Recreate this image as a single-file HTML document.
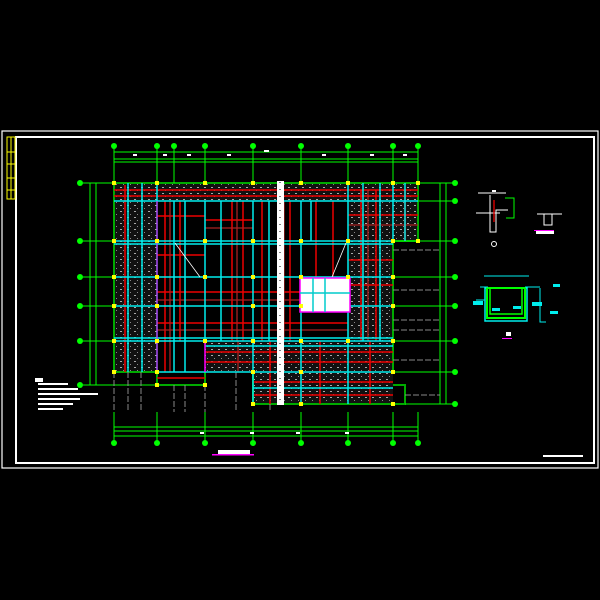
<!DOCTYPE html>
<html><head><meta charset="utf-8"><style>
html,body{margin:0;padding:0;background:#000;width:600px;height:600px;overflow:hidden}
svg{display:block}
text{font-family:"Liberation Sans",sans-serif}
</style></head><body>
<svg width="600" height="600" viewBox="0 0 600 600" xmlns="http://www.w3.org/2000/svg">
<defs>
<pattern id="h" width="7" height="6" patternUnits="userSpaceOnUse">
<rect width="7" height="6" fill="#111"/>
<rect x="1" y="1" width="2" height="1" fill="#aaa"/>
<rect x="4" y="4" width="1" height="1" fill="#888"/>
</pattern>
</defs>
<rect width="600" height="600" fill="#000"/>
<!-- borders -->
<rect x="2" y="131" width="596" height="337" fill="none" stroke="#fff" stroke-width="1.2"/>
<rect x="16" y="137" width="578" height="326" fill="none" stroke="#fff" stroke-width="2"/>
<!-- title block -->
<g fill="none" stroke="#ff0" stroke-width="1">
<rect x="7" y="137" width="8" height="62"/>
<line x1="7" y1="152" x2="15" y2="152"/><line x1="7" y1="164" x2="15" y2="164"/>
<line x1="7" y1="178" x2="15" y2="178"/><line x1="7" y1="190" x2="15" y2="190"/>
<line x1="11" y1="137" x2="11" y2="199"/>
</g>
<!-- hatched regions -->
<g fill="url(#h)">
<rect x="114" y="183" width="304" height="18"/>
<rect x="114" y="183" width="43" height="189"/>
<rect x="348" y="183" width="70" height="58"/>
<rect x="348" y="183" width="45" height="158"/>
<rect x="205" y="341" width="188" height="31"/>
<rect x="253" y="341" width="140" height="63"/>
</g>
<!-- green outline -->
<g fill="none" stroke="#0a0" stroke-width="2">
<path d="M114 183H418V241H393V372M114 183V372H157M253 372V404H405V385H393"/>
<path d="M157 372V385H205V372"/>
</g>
<!-- dimension lines -->
<g stroke="#0f0" stroke-width="1">
<line x1="114" y1="152" x2="418" y2="152"/><line x1="114" y1="159" x2="418" y2="159"/><line x1="114" y1="162" x2="418" y2="162"/>
<line x1="114" y1="427" x2="418" y2="427"/><line x1="114" y1="431" x2="418" y2="431"/><line x1="114" y1="436" x2="418" y2="436"/>
<line x1="83" y1="183" x2="114" y2="183"/><line x1="83" y1="241" x2="114" y2="241"/><line x1="83" y1="277" x2="114" y2="277"/>
<line x1="83" y1="306" x2="114" y2="306"/><line x1="83" y1="341" x2="114" y2="341"/><line x1="83" y1="385" x2="157" y2="385"/>
<line x1="90" y1="183" x2="90" y2="385"/><line x1="96" y1="183" x2="96" y2="385"/>
<line x1="418" y1="183" x2="455" y2="183"/><line x1="418" y1="201" x2="455" y2="201"/><line x1="393" y1="241" x2="455" y2="241"/>
<line x1="393" y1="277" x2="455" y2="277"/><line x1="393" y1="306" x2="455" y2="306"/><line x1="393" y1="341" x2="455" y2="341"/>
<line x1="393" y1="372" x2="455" y2="372"/><line x1="405" y1="404" x2="455" y2="404"/>
<line x1="440" y1="183" x2="440" y2="404"/><line x1="446" y1="183" x2="446" y2="404"/>
</g>
<g stroke="#0f0" stroke-width="1">
<line x1="114" y1="146" x2="114" y2="183"/><line x1="157" y1="146" x2="157" y2="183"/><line x1="174" y1="146" x2="174" y2="183"/>
<line x1="205" y1="146" x2="205" y2="183"/><line x1="253" y1="146" x2="253" y2="183"/><line x1="301" y1="146" x2="301" y2="183"/>
<line x1="348" y1="146" x2="348" y2="183"/><line x1="393" y1="146" x2="393" y2="183"/><line x1="418" y1="146" x2="418" y2="183"/>
<line x1="114" y1="412" x2="114" y2="442"/><line x1="157" y1="412" x2="157" y2="442"/><line x1="205" y1="412" x2="205" y2="442"/>
<line x1="253" y1="412" x2="253" y2="442"/><line x1="301" y1="412" x2="301" y2="442"/><line x1="348" y1="412" x2="348" y2="442"/>
<line x1="393" y1="412" x2="393" y2="442"/><line x1="418" y1="412" x2="418" y2="442"/>
</g>
<g fill="#0f0">
<circle cx="114" cy="146" r="3"/><circle cx="157" cy="146" r="3"/><circle cx="174" cy="146" r="3"/><circle cx="205" cy="146" r="3"/>
<circle cx="253" cy="146" r="3"/><circle cx="301" cy="146" r="3"/><circle cx="348" cy="146" r="3"/><circle cx="393" cy="146" r="3"/><circle cx="418" cy="146" r="3"/>
<circle cx="114" cy="443" r="3"/><circle cx="157" cy="443" r="3"/><circle cx="205" cy="443" r="3"/><circle cx="253" cy="443" r="3"/>
<circle cx="301" cy="443" r="3"/><circle cx="348" cy="443" r="3"/><circle cx="393" cy="443" r="3"/><circle cx="418" cy="443" r="3"/>
<circle cx="80" cy="183" r="3"/><circle cx="80" cy="241" r="3"/><circle cx="80" cy="277" r="3"/><circle cx="80" cy="306" r="3"/>
<circle cx="80" cy="341" r="3"/><circle cx="80" cy="385" r="3"/>
<circle cx="455" cy="183" r="3"/><circle cx="455" cy="201" r="3"/><circle cx="455" cy="241" r="3"/><circle cx="455" cy="277" r="3"/>
<circle cx="455" cy="306" r="3"/><circle cx="455" cy="341" r="3"/><circle cx="455" cy="372" r="3"/><circle cx="455" cy="404" r="3"/>
</g>
<!-- gray dashed extension lines -->
<g stroke="#888" stroke-width="1" stroke-dasharray="6 2">
<line x1="114" y1="372" x2="114" y2="412"/><line x1="128" y1="372" x2="128" y2="412"/><line x1="141" y1="372" x2="141" y2="412"/>
<line x1="174" y1="385" x2="174" y2="412"/><line x1="185" y1="385" x2="185" y2="412"/><line x1="205" y1="385" x2="205" y2="412"/>
<line x1="236" y1="372" x2="236" y2="412"/><line x1="270" y1="404" x2="270" y2="412"/>
<line x1="393" y1="250" x2="440" y2="250"/><line x1="393" y1="290" x2="440" y2="290"/><line x1="393" y1="320" x2="440" y2="320"/>
<line x1="393" y1="330" x2="440" y2="330"/><line x1="393" y1="360" x2="440" y2="360"/><line x1="405" y1="395" x2="440" y2="395"/>
</g>
<!-- red/brown members -->
<g stroke="#e00" stroke-width="1.5">
<line x1="165" y1="201" x2="165" y2="372"/><line x1="180" y1="201" x2="180" y2="341"/><line x1="232" y1="201" x2="232" y2="341"/>
<line x1="243" y1="201" x2="243" y2="341"/><line x1="262" y1="201" x2="262" y2="341"/><line x1="290" y1="201" x2="290" y2="341"/>
<line x1="316" y1="201" x2="316" y2="277"/><line x1="333" y1="201" x2="333" y2="277"/><line x1="361" y1="190" x2="361" y2="341"/>
<line x1="376" y1="190" x2="376" y2="341"/><line x1="405" y1="190" x2="405" y2="241"/><line x1="125" y1="185" x2="125" y2="372"/>
<line x1="157" y1="216" x2="205" y2="216"/><line x1="205" y1="220" x2="253" y2="220"/><line x1="157" y1="255" x2="205" y2="255"/>
<line x1="157" y1="292" x2="348" y2="292"/><line x1="157" y1="323" x2="348" y2="323"/><line x1="348" y1="215" x2="418" y2="215"/>
<line x1="348" y1="260" x2="393" y2="260"/><line x1="348" y1="285" x2="393" y2="285"/><line x1="114" y1="190" x2="418" y2="190"/>
<line x1="114" y1="196" x2="418" y2="196"/><line x1="205" y1="352" x2="393" y2="352"/><line x1="205" y1="362" x2="393" y2="362"/>
<line x1="253" y1="382" x2="393" y2="382"/><line x1="253" y1="395" x2="393" y2="395"/><line x1="157" y1="378" x2="205" y2="378"/>
<line x1="270" y1="341" x2="270" y2="404"/><line x1="320" y1="341" x2="320" y2="404"/><line x1="370" y1="341" x2="370" y2="404"/>
</g>
<g stroke="#a22" stroke-width="1.3">
<line x1="170" y1="201" x2="170" y2="372"/><line x1="237" y1="201" x2="237" y2="341"/><line x1="284" y1="201" x2="284" y2="341"/>
<line x1="157" y1="330" x2="348" y2="330"/><line x1="157" y1="300" x2="300" y2="300"/><line x1="205" y1="228" x2="253" y2="228"/>
<line x1="368" y1="190" x2="368" y2="341"/><line x1="348" y1="225" x2="418" y2="225"/><line x1="238" y1="341" x2="238" y2="372"/>
</g>
<!-- cyan beams -->
<g stroke="#0ee" stroke-width="1.5" fill="none">
<line x1="114" y1="201" x2="418" y2="201"/><line x1="114" y1="241" x2="393" y2="241"/><line x1="114" y1="277" x2="393" y2="277"/>
<line x1="114" y1="306" x2="393" y2="306"/><line x1="114" y1="341" x2="393" y2="341"/><line x1="157" y1="372" x2="393" y2="372"/>
<line x1="205" y1="346" x2="393" y2="346"/><line x1="253" y1="388" x2="393" y2="388"/><line x1="114" y1="244" x2="393" y2="244"/>
<line x1="114" y1="338" x2="393" y2="338"/>
<line x1="128" y1="183" x2="128" y2="372"/><line x1="142" y1="183" x2="142" y2="372"/><line x1="157" y1="183" x2="157" y2="372"/>
<line x1="174" y1="201" x2="174" y2="372"/><line x1="185" y1="201" x2="185" y2="372"/><line x1="205" y1="201" x2="205" y2="341"/>
<line x1="221" y1="201" x2="221" y2="341"/><line x1="253" y1="201" x2="253" y2="341"/><line x1="269" y1="201" x2="269" y2="341"/>
<line x1="301" y1="201" x2="301" y2="341"/><line x1="311" y1="201" x2="311" y2="241"/><line x1="348" y1="183" x2="348" y2="341"/>
<line x1="363" y1="183" x2="363" y2="341"/><line x1="380" y1="183" x2="380" y2="341"/><line x1="393" y1="183" x2="393" y2="241"/>
<line x1="405" y1="183" x2="405" y2="241"/><line x1="301" y1="341" x2="301" y2="404"/><line x1="348" y1="341" x2="348" y2="404"/>
<line x1="253" y1="341" x2="253" y2="404"/>
</g>
<!-- white strip -->
<rect x="277" y="181" width="7" height="224" fill="#fff"/>
<g stroke="#000" stroke-width="1" stroke-dasharray="1 6"><line x1="280" y1="182" x2="280" y2="404"/></g>
<!-- magenta box -->
<rect x="300" y="278" width="50" height="34" fill="#fff" stroke="#f0f" stroke-width="1.5"/>
<g stroke="#0cc" stroke-width="1.5"><line x1="300" y1="293" x2="350" y2="293"/><line x1="313" y1="278" x2="313" y2="312"/><line x1="325" y1="278" x2="325" y2="312"/></g>
<line x1="205" y1="341" x2="205" y2="372" stroke="#f0f" stroke-width="1.5"/>
<line x1="157" y1="201" x2="157" y2="372" stroke="#f0f" stroke-width="1"/>
<!-- diagonals -->
<g stroke="#fff" stroke-width="0.8"><line x1="175" y1="243" x2="200" y2="277"/><line x1="346" y1="243" x2="332" y2="277"/></g>
<!-- yellow columns -->
<g fill="#ff0">
<rect x="112" y="181" width="4" height="4"/><rect x="155" y="181" width="4" height="4"/><rect x="203" y="181" width="4" height="4"/><rect x="251" y="181" width="4" height="4"/><rect x="299" y="181" width="4" height="4"/><rect x="346" y="181" width="4" height="4"/><rect x="391" y="181" width="4" height="4"/><rect x="416" y="181" width="4" height="4"/>
<rect x="112" y="239" width="4" height="4"/><rect x="155" y="239" width="4" height="4"/><rect x="203" y="239" width="4" height="4"/><rect x="251" y="239" width="4" height="4"/><rect x="299" y="239" width="4" height="4"/><rect x="346" y="239" width="4" height="4"/><rect x="391" y="239" width="4" height="4"/><rect x="416" y="239" width="4" height="4"/>
<rect x="112" y="275" width="4" height="4"/><rect x="155" y="275" width="4" height="4"/><rect x="203" y="275" width="4" height="4"/><rect x="251" y="275" width="4" height="4"/><rect x="299" y="275" width="4" height="4"/><rect x="346" y="275" width="4" height="4"/><rect x="391" y="275" width="4" height="4"/>
<rect x="112" y="304" width="4" height="4"/><rect x="155" y="304" width="4" height="4"/><rect x="251" y="304" width="4" height="4"/><rect x="299" y="304" width="4" height="4"/><rect x="391" y="304" width="4" height="4"/>
<rect x="112" y="339" width="4" height="4"/><rect x="155" y="339" width="4" height="4"/><rect x="203" y="339" width="4" height="4"/><rect x="251" y="339" width="4" height="4"/><rect x="299" y="339" width="4" height="4"/><rect x="346" y="339" width="4" height="4"/><rect x="391" y="339" width="4" height="4"/>
<rect x="112" y="370" width="4" height="4"/><rect x="155" y="370" width="4" height="4"/><rect x="251" y="370" width="4" height="4"/><rect x="299" y="370" width="4" height="4"/><rect x="391" y="370" width="4" height="4"/>
<rect x="155" y="383" width="4" height="4"/><rect x="203" y="383" width="4" height="4"/><rect x="251" y="402" width="4" height="4"/><rect x="299" y="402" width="4" height="4"/><rect x="391" y="402" width="4" height="4"/>
</g>
<!-- dim text marks -->
<g fill="#fff">
<rect x="133" y="154" width="4" height="2"/><rect x="163" y="154" width="4" height="2"/><rect x="187" y="154" width="4" height="2"/><rect x="227" y="154" width="4" height="2"/><rect x="264" y="150" width="5" height="2"/><rect x="322" y="154" width="4" height="2"/><rect x="370" y="154" width="4" height="2"/><rect x="403" y="154" width="4" height="2"/>
<rect x="200" y="432" width="4" height="2"/><rect x="250" y="432" width="4" height="2"/><rect x="296" y="432" width="4" height="2"/><rect x="345" y="432" width="4" height="2"/>
<rect x="35" y="378" width="8" height="4"/><rect x="38" y="383" width="30" height="2"/><rect x="38" y="388" width="40" height="2"/><rect x="38" y="393" width="60" height="2"/><rect x="38" y="398" width="42" height="2"/><rect x="38" y="403" width="35" height="2"/><rect x="38" y="408" width="25" height="2"/>
<rect x="218" y="450" width="32" height="4"/><rect x="543" y="455" width="40" height="2"/>
</g>
<rect x="212" y="454" width="42" height="1.5" fill="#f0f"/>
<!-- right details -->
<g stroke="#fff" stroke-width="1" fill="none">
<path d="M490 195V232H496V210H508"/><path d="M476 213H500"/><path d="M478 193H506"/><path d="M537 214H562"/><path d="M544 214V225H552V214"/>
</g>
<rect x="492" y="190" width="4" height="2" fill="#fff"/><rect x="536" y="231" width="18" height="3" fill="#fff"/>
<rect x="534" y="230" width="20" height="1" fill="#f0f"/>
<line x1="494" y1="200" x2="494" y2="222" stroke="#e00" stroke-width="1.3"/>
<path d="M505 198H514V218H506" stroke="#0f0" fill="none"/>
<circle cx="494" cy="244" r="2.5" fill="none" stroke="#fff"/>
<g fill="none">
<rect x="485" y="288" width="42" height="33" stroke="#0ee" stroke-width="1.5"/>
<rect x="487" y="288" width="38" height="30" stroke="#0f0" stroke-width="2"/>
<path d="M490 288V314H522V288" stroke="#0f0" stroke-width="1.5"/>
<path d="M484 276H529M480 287H488M525 287H540M476 300H485M540 288V322H546" stroke="#0ee" stroke-width="1"/>
</g>
<g fill="#0ee"><rect x="473" y="301" width="10" height="4"/><rect x="532" y="302" width="10" height="4"/><rect x="492" y="308" width="8" height="3"/><rect x="513" y="306" width="8" height="3"/><rect x="553" y="284" width="7" height="3"/><rect x="550" y="311" width="8" height="3"/></g>
<rect x="506" y="332" width="5" height="4" fill="#fff"/><rect x="502" y="338" width="10" height="1" fill="#f0f"/>
</svg>
</body></html>
